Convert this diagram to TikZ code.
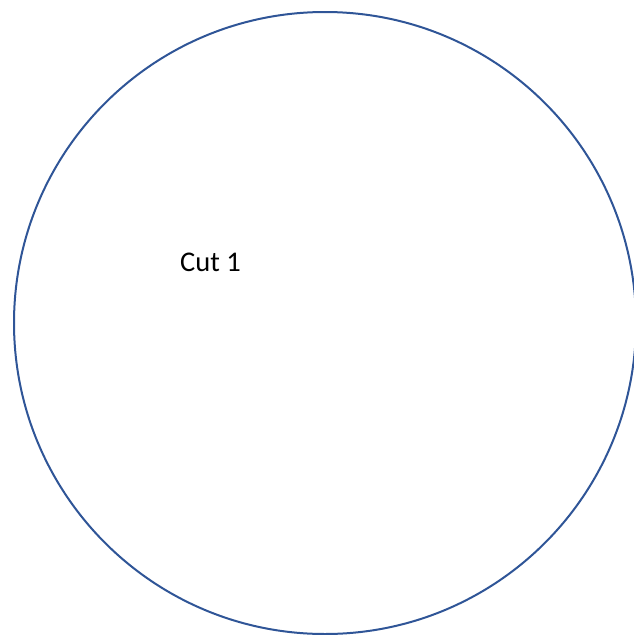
\documentclass[tikz,border=0pt]{standalone}
\usepackage{fontspec}
\setmainfont{Carlito}
\usepackage{tikz}
\definecolor{cutblue}{RGB}{47,85,151}

\begin{document}
\begin{tikzpicture}[x=1pt,y=-1pt]
        % page frame, the ring runs off on the right
        \clip (0,0) rectangle (634,635);

        \coordinate (O) at (325,323);
        \draw[cutblue, line width=2pt] (O) circle (311pt);

        \node[anchor=base west, inner sep=0pt, font=\fontsize{28.5}{30}\selectfont] (cut) at (180,271) {Cut 1};
    \end{tikzpicture}
\end{document}
